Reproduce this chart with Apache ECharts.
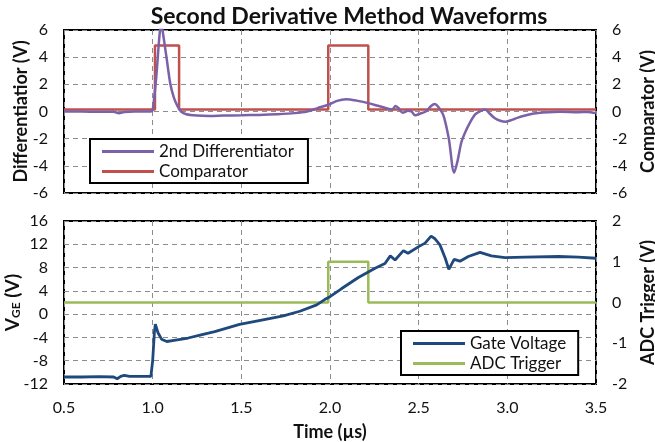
<!DOCTYPE html>
<html><head><meta charset="utf-8">
<script src="https://cdn.jsdelivr.net/npm/echarts@6/dist/echarts.min.js"></script>
<style>html,body{margin:0;padding:0;background:#fff}#c{width:655px;height:442px}</style>
</head><body><div id="c"></div>
<script>
// ---- data (time in µs) ----
const diffT = [0.5,0.6,0.7,0.78,0.81,0.84,0.9,0.99,1.0,1.02,1.04,1.05,1.06,1.08,1.10,1.12,1.14,1.16,1.19,1.25,1.32,1.4,1.5,1.6,1.7,1.8,1.87,1.93,1.99,2.04,2.09,2.15,2.22,2.27,2.31,2.35,2.37,2.39,2.41,2.44,2.46,2.48,2.51,2.54,2.57,2.59,2.61,2.64,2.67,2.70,2.72,2.74,2.76,2.79,2.82,2.85,2.875,2.9,2.93,2.96,2.99,3.03,3.06,3.1,3.15,3.2,3.3,3.4,3.45,3.5];
const diffV = [0,0,-0.02,-0.02,-0.13,-0.03,0,0,0.1,2.5,5.8,6.3,5.6,3.8,2.0,1.0,0.4,0,-0.2,-0.3,-0.33,-0.3,-0.28,-0.25,-0.2,-0.12,0,0.25,0.5,0.78,0.9,0.8,0.6,0.42,0.28,0.15,0.4,0.2,-0.1,0.05,0,-0.28,-0.15,0,0.4,0.55,0.35,-0.3,-2.0,-4.5,-3.6,-2.3,-1.6,-0.8,-0.2,0.05,0.15,-0.15,-0.5,-0.68,-0.75,-0.6,-0.45,-0.3,-0.15,-0.08,-0.02,-0.05,-0.03,-0.12];
const compT = [0.5,1.013,1.013,1.149,1.149,1.99,1.99,2.216,2.216,3.5];
const compV = [0.15,0.15,4.85,4.85,0.15,0.15,4.85,4.85,0.15,0.15];
const gateT = [0.5,0.6,0.7,0.78,0.8,0.82,0.84,0.87,0.95,0.99,1.0,1.01,1.015,1.03,1.05,1.08,1.12,1.2,1.267,1.35,1.49,1.6,1.737,1.83,1.925,1.97,2.0,2.066,2.16,2.254,2.31,2.34,2.367,2.414,2.44,2.5,2.536,2.57,2.59,2.62,2.65,2.67,2.70,2.733,2.78,2.846,2.91,2.987,3.1,3.29,3.4,3.5];
const gateV = [-10.8,-10.8,-10.75,-10.8,-11.1,-10.7,-10.5,-10.7,-10.7,-10.7,-8,-3,-1.7,-3.2,-4.3,-4.7,-4.5,-4.1,-3.6,-3.0,-1.75,-1.1,-0.3,0.5,1.6,2.5,3.0,4.4,6.3,7.9,8.7,10.0,9.3,10.9,10.45,11.6,12.2,13.4,13.0,11.9,9.6,7.7,9.4,9.1,9.9,10.6,10.0,9.7,9.8,9.9,9.8,9.6];
const adcT = [0.5,1.99,1.99,2.216,2.216,3.5];
const adcV = [0,0,1.0,1.0,0,0];
const xTicks = {min:0.5, max:3.5, interval:0.5};
const title = 'Second Derivative Method Waveforms';

const zip = (a,b) => a.map((t,i)=>[t,b[i]]);
const FONT = 'Lato';
const dash = {show:true, lineStyle:{color:'#8c8c8c', type:[5,4], width:1}};
const tick = {color:'#111', fontSize:16, fontFamily:FONT};
const nameSt = {color:'#111', fontSize:18, fontWeight:'bold', fontFamily:FONT};
const gridBase = {left:64, right:59, height:163, show:true, borderColor:'#000', borderWidth:2, backgroundColor:'transparent', containLabel:false, outerBoundsMode:'none'};

const chart = echarts.init(document.getElementById('c'));
chart.setOption({
  animation:false,
  title:{text:title, left:344, textAlign:'center', top:0, textStyle:{fontSize:23, fontWeight:'bold', fontFamily:FONT, color:'#111'}},
  grid:[
    {...gridBase, top:30},
    {...gridBase, top:221}
  ],
  xAxis:[
    {type:'value', gridIndex:0, ...xTicks, axisLine:{show:false}, axisTick:{show:false}, axisLabel:{show:false}, splitLine:dash},
    {type:'value', gridIndex:1, ...xTicks, axisLine:{show:false}, axisTick:{show:false},
     axisLabel:{...tick, margin:16, formatter:v=>v.toFixed(1)}, splitLine:dash,
     name:'Time (µs)', nameLocation:'middle', nameGap:39, nameMoveOverlap:false, nameTextStyle:nameSt}
  ],
  yAxis:[
    {type:'value', gridIndex:0, min:-6, max:6, interval:2, axisLine:{show:false}, axisTick:{show:false}, axisLabel:{...tick, margin:16}, splitLine:dash,
     name:'Differentiatior (V)', nameLocation:'middle', nameGap:34, nameMoveOverlap:false, nameTextStyle:nameSt},
    {type:'value', gridIndex:0, position:'right', min:-6, max:6, interval:2, axisLine:{show:false}, axisTick:{show:false}, axisLabel:{...tick, margin:16}, splitLine:{show:false},
     name:'Comparator (V)', nameLocation:'middle', nameGap:43, nameRotate:90, nameMoveOverlap:false, nameTextStyle:nameSt},
    {type:'value', gridIndex:1, min:-12, max:16, interval:4, axisLine:{show:false}, axisTick:{show:false}, axisLabel:{...tick, margin:16}, splitLine:dash,
     name:'{b|V}{s|GE}{b| (V)}', nameLocation:'middle', nameGap:42, nameMoveOverlap:false,
     nameTextStyle:{...nameSt, rich:{b:{fontSize:19, fontWeight:'bold', fontFamily:FONT, color:'#111'}, s:{fontSize:12, fontWeight:'bold', fontFamily:FONT, color:'#111', verticalAlign:'bottom', padding:[7,0,0,0]}}}},
    {type:'value', gridIndex:1, position:'right', min:-2, max:2, interval:1, axisLine:{show:false}, axisTick:{show:false}, axisLabel:{...tick, margin:16}, splitLine:{show:false},
     name:'ADC Trigger (V)', nameLocation:'middle', nameGap:43, nameRotate:90, nameMoveOverlap:false, nameTextStyle:nameSt}
  ],
  legend:[
    {data:['2nd Differentiator','Comparator'], orient:'vertical', left:90, top:139,
     backgroundColor:'#fff', borderColor:'#000', borderWidth:2, borderRadius:0, padding:[4,14,3,12], itemGap:3,
     icon:'rect', itemWidth:52, itemHeight:3, textStyle:{fontSize:17, fontFamily:FONT, color:'#111'}},
    {data:['Gate Voltage','ADC Trigger'], orient:'vertical', left:401, top:331,
     backgroundColor:'#fff', borderColor:'#000', borderWidth:2, borderRadius:0, padding:[4,12,3,12], itemGap:3,
     icon:'rect', itemWidth:52, itemHeight:3, textStyle:{fontSize:17, fontFamily:FONT, color:'#111'}}
  ],
  series:[
    {name:'2nd Differentiator', type:'line', xAxisIndex:0, yAxisIndex:0, data:zip(diffT,diffV), showSymbol:false, smooth:0.3, lineStyle:{color:'#7b62a8', width:2.5}, itemStyle:{color:'#7b62a8'}, z:3},
    {name:'Comparator', type:'line', xAxisIndex:0, yAxisIndex:1, data:zip(compT,compV), showSymbol:false, lineStyle:{color:'#c0504d', width:2.5}, itemStyle:{color:'#c0504d'}, z:2},
    {name:'Gate Voltage', type:'line', xAxisIndex:1, yAxisIndex:2, data:zip(gateT,gateV), showSymbol:false, lineStyle:{color:'#1f497d', width:2.8}, itemStyle:{color:'#1f497d'}, z:3},
    {name:'ADC Trigger', type:'line', xAxisIndex:1, yAxisIndex:3, data:zip(adcT,adcV), showSymbol:false, lineStyle:{color:'#9bbb59', width:2.5}, itemStyle:{color:'#9bbb59'}, z:2}
  ]
});
</script></body></html>
